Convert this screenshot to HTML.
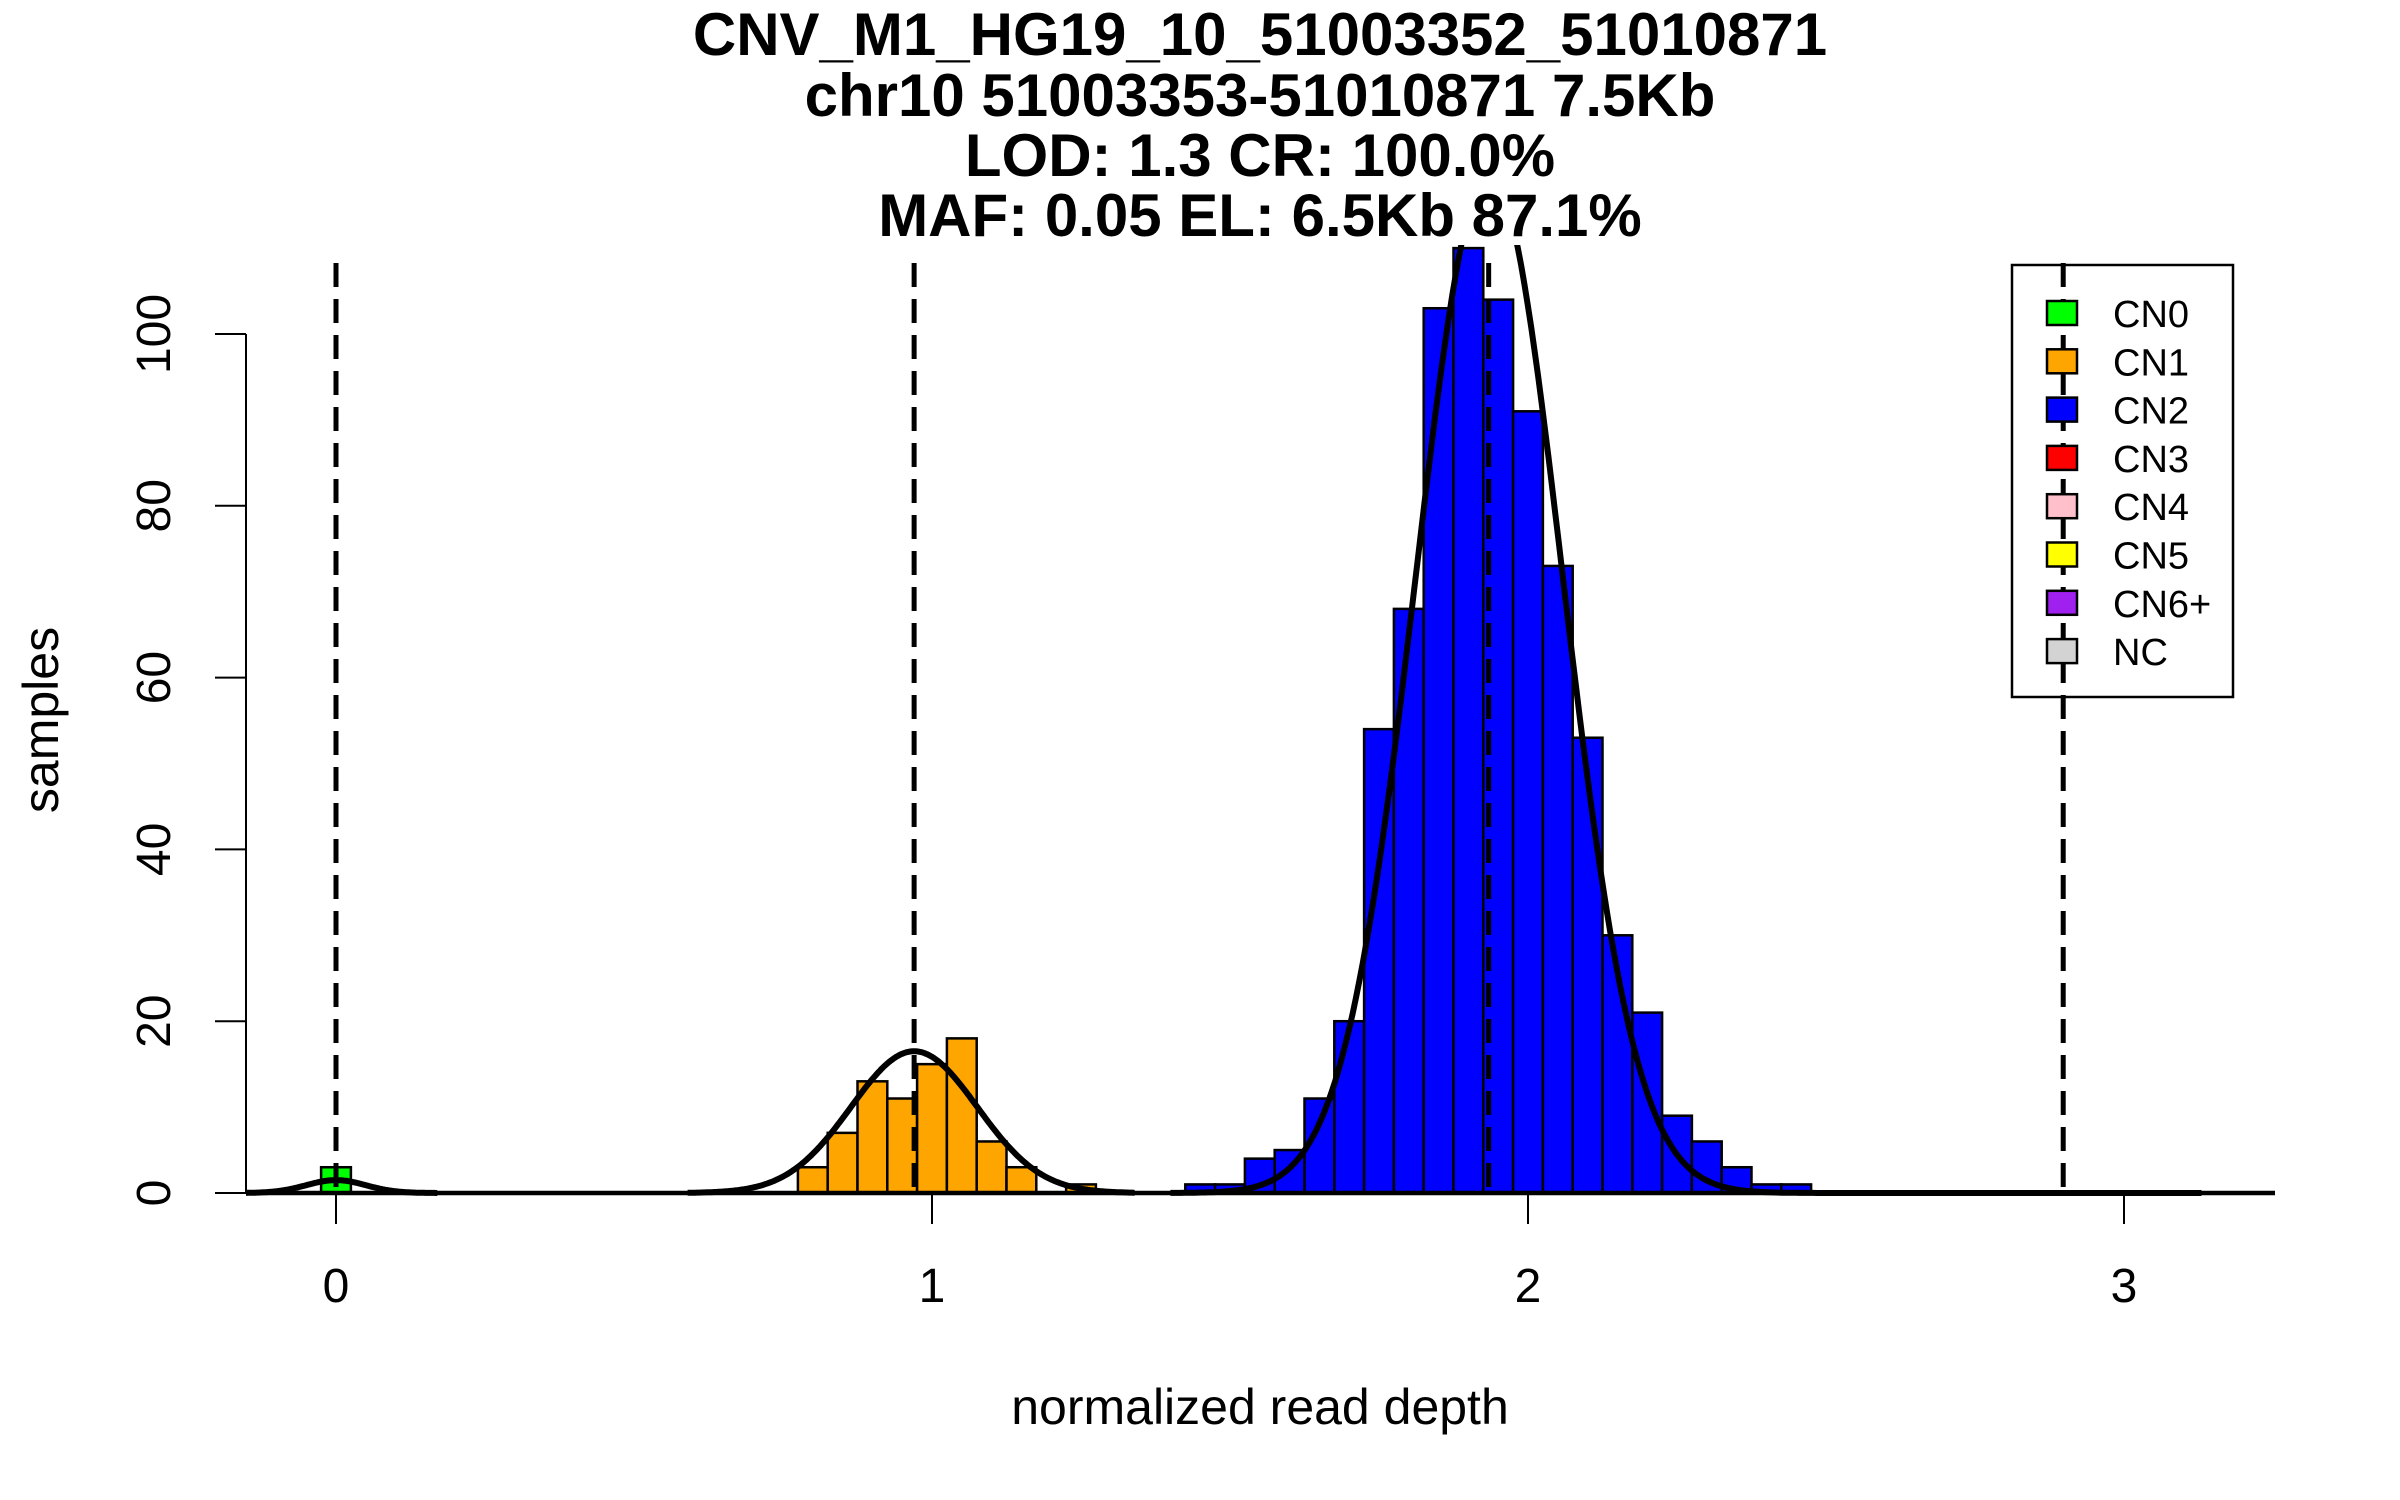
<!DOCTYPE html>
<html><head><meta charset="utf-8"><style>
html,body{margin:0;padding:0;background:#fff;}
svg{display:block;font-family:"Liberation Sans",Arial,sans-serif;}
</style></head><body>
<svg id="chart" width="2400" height="1500" viewBox="0 0 2400 1500" xmlns="http://www.w3.org/2000/svg">
<defs><clipPath id="plotclip"><rect x="246" y="245" width="2029" height="960"/></clipPath></defs>
<g font-weight="bold" font-size="60" text-anchor="middle">
<text x="1260" y="55">CNV_M1_HG19_10_51003352_51010871</text>
<text x="1260" y="116">chr10 51003353-51010871 7.5Kb</text>
<text x="1260" y="176">LOD: 1.3 CR: 100.0%</text>
<text x="1260" y="236">MAF: 0.05 EL: 6.5Kb 87.1%</text>
</g>
<text x="1260" y="1424" font-size="50" text-anchor="middle">normalized read depth</text>
<text transform="translate(58,720) rotate(-90)" font-size="50" text-anchor="middle">samples</text>
<g id="bars"></g>
<g id="curves" clip-path="url(#plotclip)"></g>
<g id="dashes"></g>
<g id="axes"></g>
<g id="legend"></g>
</svg>
<script>
const binStart = -0.025;
const binWidth = 0.05;
const greenCounts = [3];
const greenFirstBin = 0;
const orangeCounts = [3, 7, 13, 11, 15, 18, 6, 3, 0, 1];
const orangeFirstBin = 16;
const blueCounts = [1, 1, 4, 5, 11, 20, 54, 68, 103, 110, 104, 91, 73, 53, 30, 21, 9, 6, 3, 1, 1];
const blueFirstBin = 29;
const curveMeans = [0, 0.97, 1.935];
const curveSds = [0.05, 0.106, 0.123];
const curvePeaks = [1.5, 16.5, 118.7];
const curveFrom = [-0.151, 0.59, 1.4];
const curveTo = [0.17, 1.34, 3.13];
const cnLines = [0, 0.97, 1.934, 2.898];
const xTicks = [0, 1, 2, 3];
const yTicks = [0, 20, 40, 60, 80, 100];
const legendLabels = ["CN0", "CN1", "CN2", "CN3", "CN4", "CN5", "CN6+", "NC"];
const legendColors = ["#00ff00", "#ffa500", "#0000ff", "#ff0000", "#ffc0cb", "#ffff00", "#a020f0", "#d3d3d3"];

const NS = "http://www.w3.org/2000/svg";
const X = v => 336 + v * 596;
const Y = v => 1193 - v * 8.59;
function mk(tag, attrs, parent) {
  const e = document.createElementNS(NS, tag);
  for (const k in attrs) e.setAttribute(k, attrs[k]);
  parent.appendChild(e);
  return e;
}
const bars = document.getElementById('bars');
function drawBars(counts, first, color, nm) {
  counts.forEach((c, i) => {
    const x0 = binStart + (first + i) * binWidth;
    const r = mk('rect', {x: X(x0), y: Y(c), width: X(x0 + binWidth) - X(x0), height: Y(0) - Y(c), fill: color, stroke: '#000', 'stroke-width': 2.5}, bars);
    
    
  });
}
drawBars(greenCounts, greenFirstBin, '#00ff00', 'bar-cn0');
drawBars(orangeCounts, orangeFirstBin, '#ffa500', 'bar-cn1');
drawBars(blueCounts, blueFirstBin, '#0000ff', 'bar-cn2');

const curves = document.getElementById('curves');
const base = mk('line', {x1: 246, x2: 2275, y1: Y(0), y2: Y(0), stroke: '#000', 'stroke-width': 4.5}, curves);


curveMeans.forEach((m, i) => {
  let d = '';
  const n = 300;
  for (let j = 0; j <= n; j++) {
    const v = curveFrom[i] + (curveTo[i] - curveFrom[i]) * j / n;
    const yv = curvePeaks[i] * Math.exp(-((v - m) ** 2) / (2 * curveSds[i] ** 2));
    d += (j ? 'L' : 'M') + X(v).toFixed(1) + ',' + Y(yv).toFixed(1);
  }
  const p = mk('path', {d: d, fill: 'none', stroke: '#000', 'stroke-width': 6}, curves);
  
  
});

const dashes = document.getElementById('dashes');
cnLines.forEach(v => {
  const l = mk('line', {x1: X(v), x2: X(v), y1: 263, y2: Y(0), stroke: '#000', 'stroke-width': 5, 'stroke-dasharray': '24,12'}, dashes);
  
  
});

const axes = document.getElementById('axes');
const ya = mk('line', {x1: 246, x2: 246, y1: Y(100), y2: Y(0), stroke: '#000', 'stroke-width': 2}, axes);


yTicks.forEach(t => {
  const l = mk('line', {x1: 215, x2: 246, y1: Y(t), y2: Y(t), stroke: '#000', 'stroke-width': 2}, axes);
  
  
  const tx = mk('text', {transform: 'translate(170,' + Y(t) + ') rotate(-90)', 'font-size': 48, 'text-anchor': 'middle'}, axes);
  tx.textContent = t;
  
  
});
xTicks.forEach(t => {
  const l = mk('line', {x1: X(t), x2: X(t), y1: Y(0), y2: 1224, stroke: '#000', 'stroke-width': 2}, axes);
  
  
  const tx = mk('text', {x: X(t), y: 1302, 'font-size': 48, 'text-anchor': 'middle'}, axes);
  tx.textContent = t;
  
  
});

const legend = document.getElementById('legend');
const box = mk('rect', {x: 2012, y: 265, width: 221, height: 432, fill: 'none', stroke: '#000', 'stroke-width': 2.5}, legend);


legendLabels.forEach((lab, i) => {
  const cy = 313 + i * 48.3;
  const s = mk('rect', {x: 2047, y: cy - 12, width: 30, height: 24, fill: legendColors[i], stroke: '#000', 'stroke-width': 2.5}, legend);
  
  
  const t = mk('text', {x: 2113, y: cy + 14, 'font-size': 38}, legend);
  t.textContent = lab;
  
  
});
</script>
</body></html>
